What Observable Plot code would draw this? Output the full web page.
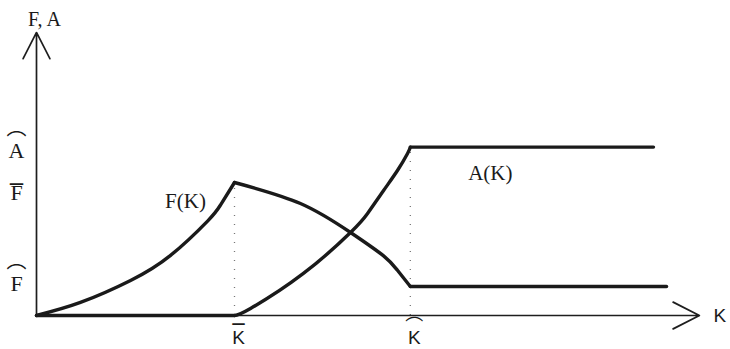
<!DOCTYPE html>
<html><head><meta charset="utf-8">
<script src="https://cdn.jsdelivr.net/npm/d3@7"></script>
<script src="https://cdn.jsdelivr.net/npm/@observablehq/plot@0.6"></script>
<style>body{margin:0;background:#fff}</style>
</head><body><div id="chart"></div>
<script>
// F(K): rising part, falling part, flat part
const fRiseK = [0, 0.222, 0.475, 0.677, 0.864, 0.929, 1];
const fRiseV = [0, 0.098, 0.263, 0.452, 0.71, 0.83, 1];
const fFallK = [1, 1.333, 1.586, 1.753, 1.823, 1.888];
const fFallV = [1, 0.842, 0.624, 0.448, 0.340, 0.218];
const fFlatK = [1.888, 3.182];
const fFlatV = [0.218, 0.218];
// A(K): zero part, rising part, flat part
const aZeroK = [0, 1];
const aZeroV = [0, 0];
const aRiseK = [1, 1.081, 1.348, 1.586, 1.672, 1.753, 1.823, 1.874, 1.888];
const aRiseV = [0, 0.053, 0.316, 0.624, 0.767, 0.94, 1.09, 1.218, 1.266];
const aFlatK = [1.888, 3.116];
const aFlatV = [1.266, 1.266];
// reference levels and tick labels
const kTicks = [1, 1.888];
const kTickLetters = ["K", "K"];
const kTickAccents = ["bar", "hat"];
const kDropTop = [1, 1.266];
const fTicks = [1.266, 1, 0.218];
const fTickLetters = ["A", "F", "F"];
const fTickAccents = ["hat", "bar", "hat"];
const xAxisEnd = 3.348;
const yAxisEnd = 2.128;
const xTitle = "K";
const yTitle = "F, A";
const curveNames = ["F(K)", "A(K)"];

const seg = (name, ks, vs) => ks.map((k, i) => ({seg: name, k, v: vs[i]}));
const lines = [
  ...seg("fRise", fRiseK, fRiseV),
  ...seg("fFall", fFallK, fFallV),
  ...seg("fFlat", fFlatK, fFlatV),
  ...seg("aZero", aZeroK, aZeroV),
  ...seg("aRise", aRiseK, aRiseV),
  ...seg("aFlat", aFlatK, aFlatV)
];
const drops = kTicks.map((k, i) => ({k, top: kDropTop[i]}));
const axes = [
  {x1: 0, y1: 0, x2: xAxisEnd, y2: 0},
  {x1: 0, y1: 0, x2: 0, y2: yAxisEnd}
];
const serif = "'Liberation Serif', 'DejaVu Serif', serif";
const sans = "'Liberation Sans', 'DejaVu Sans', sans-serif";
const ink = "#1a1a1a";
const accentGlyph = {hat: "\uFE35", bar: "\u203E"};
const accentFont = {hat: "'Noto Sans CJK JP', sans-serif", bar: "'DejaVu Sans', sans-serif"};
const accentSize = {hat: 20, bar: 26};

// y-axis level labels, one mark each so each can sit as in the reference
const yLetterDy = [4, 10, -3];
const yAccentDy = [-19, 12, -25];
const yLabelMarks = fTicks.flatMap((v, i) => [
  Plot.text([v], {x: 0, y: d => d, text: () => fTickLetters[i], textAnchor: "middle", dx: -20, dy: yLetterDy[i], fontSize: 22, fontFamily: serif, fill: ink}),
  Plot.text([v], {x: 0, y: d => d, text: () => accentGlyph[fTickAccents[i]], textAnchor: "middle", dx: -20, dy: yAccentDy[i], fontSize: accentSize[fTickAccents[i]], fontFamily: accentFont[fTickAccents[i]], fill: ink})
]);
const xAccentDy = [19, -1];
const xLabelMarks = kTicks.flatMap((k, i) => [
  Plot.text([k], {x: d => d, y: 0, text: () => kTickLetters[i], lineAnchor: "top", dy: 15, dx: 4, fontSize: 19, fontFamily: sans, fill: ink}),
  Plot.text([k], {x: d => d, y: 0, text: () => accentGlyph[kTickAccents[i]], dy: xAccentDy[i], dx: 4, fontSize: kTickAccents[i] === "hat" ? 18 : 24, fontFamily: accentFont[kTickAccents[i]], fill: ink})
]);

const chart = Plot.plot({
  width: 730,
  height: 349,
  marginLeft: 36,
  marginBottom: 34,
  marginTop: 0,
  marginRight: 0,
  x: {domain: [0, 1], range: [36, 234], axis: null},
  y: {domain: [0, 1], range: [315, 182], axis: null},
  style: {background: "#fff"},
  marks: [
    Plot.ruleX(drops, {x: "k", y1: 0, y2: "top", stroke: "#777", strokeWidth: 1.3, strokeDasharray: "1,8"}),
    Plot.arrow(axes, {x1: "x1", y1: "y1", x2: "x2", y2: "y2", stroke: "#1e1e1e", strokeWidth: 1.7, headAngle: 54, headLength: 26}),
    Plot.line(lines, {x: "k", y: "v", z: "seg", curve: "natural", stroke: ink, strokeWidth: 3.4}),
    ...xLabelMarks,
    ...yLabelMarks,
    Plot.text([xTitle], {x: xAxisEnd, y: 0, text: d => d, textAnchor: "start", dx: 14, fontSize: 19, fontFamily: sans, fill: ink}),
    Plot.text([yTitle], {x: 0, y: yAxisEnd, text: d => d, textAnchor: "middle", dx: 8, dy: -13, fontSize: 20, fontFamily: serif, fill: ink}),
    Plot.text([curveNames[0]], {x: 1, y: 1, text: d => d, dx: -49, dy: 19, fontSize: 21, fontFamily: serif, fill: ink}),
    Plot.text([curveNames[1]], {x: 1.888, y: 1.266, text: d => d, dx: 80, dy: 26, fontSize: 21, fontFamily: serif, fill: ink})
  ]
});
document.getElementById("chart").append(chart);
</script>
</body></html>
